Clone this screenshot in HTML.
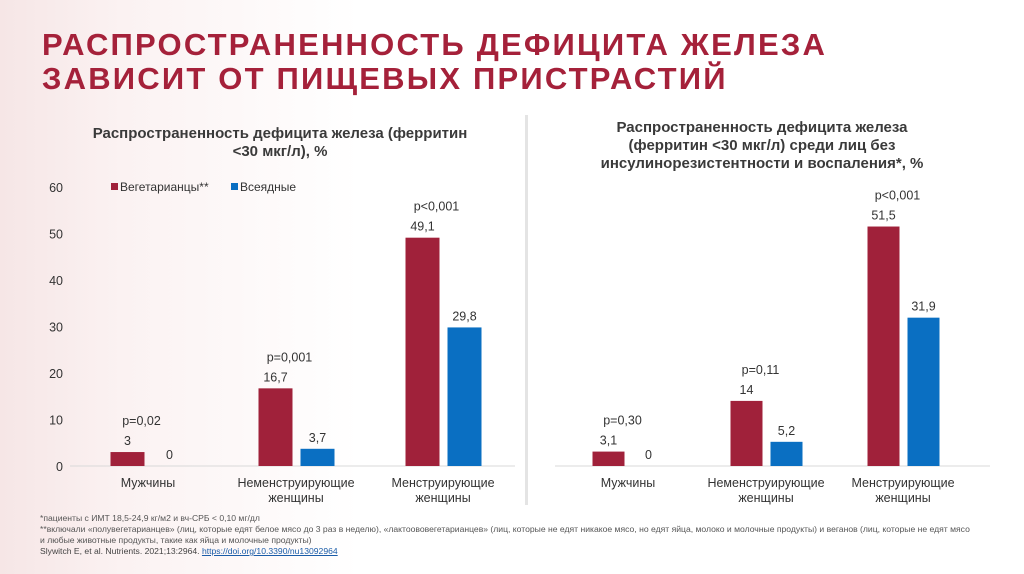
<!DOCTYPE html>
<html><head><meta charset="utf-8">
<style>
html,body{margin:0;padding:0;}
body{width:1024px;height:574px;overflow:hidden;position:relative;font-family:"Liberation Sans",Arial,sans-serif;
background:linear-gradient(90deg,#f6e6e6 0%,#fbf2f2 12%,#ffffff 35%,#ffffff 100%);}
.title{position:absolute;left:42px;top:28px;font-size:31px;font-weight:bold;color:#a5213a;line-height:34px;letter-spacing:2.2px;}
.note{position:absolute;left:40px;top:513px;font-size:8.6px;color:#555;line-height:11px;white-space:nowrap;}
.note a{color:#1a5ca8;text-decoration:underline;}
svg{position:absolute;left:0;top:0;}
</style></head><body>
<div class="title">РАСПРОСТРАНЕННОСТЬ ДЕФИЦИТА ЖЕЛЕЗА<br>ЗАВИСИТ ОТ ПИЩЕВЫХ ПРИСТРАСТИЙ</div>
<svg id="chart" width="1024" height="574"></svg>
<div class="note">*пациенты с ИМТ 18,5-24,9 кг/м2 и вч-СРБ &lt; 0,10 мг/дл<br>**включали «полувегетарианцев» (лиц, которые едят белое мясо до 3 раз в неделю), «лактоововегетарианцев» (лиц, которые не едят никакое мясо, но едят яйца, молоко и молочные продукты) и веганов (лиц, которые не едят мясо<br>и любые животные продукты, такие как яйца и молочные продукты)<br><span style="color:#444">Slywitch E, et al. Nutrients. 2021;13:2964. <a>https://doi.org/10.3390/nu13092964</a></span></div>
<script>
const categories=[["Мужчины"],["Неменструирующие","женщины"],["Менструирующие","женщины"]];
const leftVeg=[3,16.7,49.1];
const leftOmni=[0,3.7,29.8];
const leftP=["p=0,02","p=0,001","p<0,001"];
const rightVeg=[3.1,14,51.5];
const rightOmni=[0,5.2,31.9];
const rightP=["p=0,30","p=0,11","p<0,001"];
const yTicks=[0,10,20,30,40,50,60];
const RED="#a0213a",BLUE="#0a6fc2";
const svg=document.getElementById('chart');
const NS="http://www.w3.org/2000/svg";
function mk(tag,attrs,text){const e=document.createElementNS(NS,tag);for(const k in attrs)e.setAttribute(k,attrs[k]);if(text!==undefined)e.textContent=text;svg.appendChild(e);return e;}
const base=466,scale=4.65;
function y(v){return base-v*scale;}
function fmt(v){return String(v).replace('.',',');}
let d=mk('rect',{x:525,y:115,width:3,height:390,fill:'#e4e4e4'});


yTicks.forEach(t=>{const e=mk('text',{x:63,y:y(t)+5,'font-size':12.5,'text-anchor':'end',fill:'#333'},String(t));

});
function drawChart(cx,veg,omni,ps,x0,x1,bw,pre){
  let bl=mk('line',{x1:x0,x2:x1,y1:base,y2:base,stroke:'#d9d9d9','stroke-width':1});
  
  
  categories.forEach((c,i)=>{
    const gap=5;
    const rx=cx[i]-gap/2-bw, bx=cx[i]+gap/2+3;
    let r=mk('rect',{x:rx,y:y(veg[i]),width:bw,height:veg[i]*scale,fill:RED});
    
    
    let b=mk('rect',{x:bx,y:y(omni[i]),width:bw,height:omni[i]*scale,fill:BLUE});
    
    
    let lv=mk('text',{x:rx+bw/2,y:y(veg[i])-7,'font-size':12.5,'text-anchor':'middle',fill:'#333'},fmt(veg[i]));
    
    
    let lo=mk('text',{x:bx+bw/2,y:y(omni[i])-7,'font-size':12.5,'text-anchor':'middle',fill:'#333'},fmt(omni[i]));
    
    
    let p=mk('text',{x:rx+bw/2+14,y:y(veg[i])-27,'font-size':12.5,'text-anchor':'middle',fill:'#333'},ps[i]);
    
    
    c.forEach((ln,j)=>{let t=mk('text',{x:cx[i]+1,y:487+j*15,'font-size':12.5,'text-anchor':'middle',fill:'#333'},ln);
      
      });
  });
}
drawChart([147,295,442],leftVeg,leftOmni,leftP,70,515,34,'left');
drawChart([627,765,902],rightVeg,rightOmni,rightP,555,990,32,'right');
[["Распространенность дефицита железа (ферритин",138],["<30 мкг/л), %",156]].forEach(a=>{
let t=mk('text',{x:280,y:a[1],'font-size':15,'font-weight':'bold','text-anchor':'middle',fill:'#3a3a3a'},a[0]);

});
[["Распространенность дефицита железа",132],["(ферритин <30 мкг/л) среди лиц без",150],["инсулинорезистентности и воспаления*, %",168]].forEach(a=>{
let t=mk('text',{x:762,y:a[1],'font-size':15,'font-weight':'bold','text-anchor':'middle',fill:'#3a3a3a'},a[0]);

});
let s1=mk('rect',{x:111,y:183,width:7,height:7,fill:RED});


let l1=mk('text',{x:120,y:191,'font-size':12,fill:'#333'},'Вегетарианцы**');


let s2=mk('rect',{x:231,y:183,width:7,height:7,fill:BLUE});


let l2=mk('text',{x:240,y:191,'font-size':12,fill:'#333'},'Всеядные');


</script>
</body></html>
